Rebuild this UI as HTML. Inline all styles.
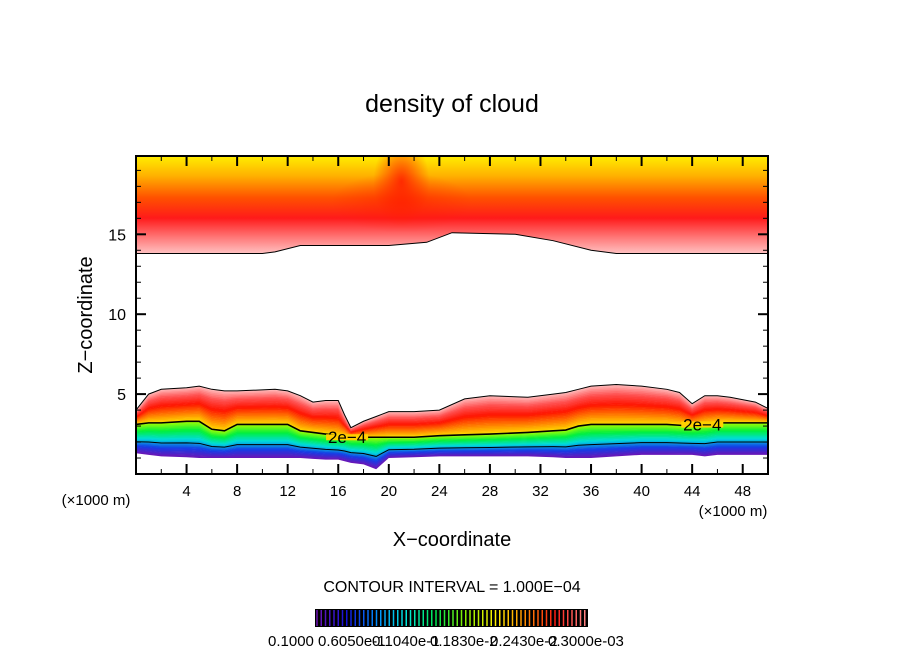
<!DOCTYPE html>
<html><head><meta charset="utf-8"><style>
html,body{margin:0;padding:0;background:#fff;}
svg{display:block;font-family:"Liberation Sans",sans-serif;}
</style></head><body>
<svg id="c" width="904" height="654" viewBox="0 0 904 654">
<defs>
<linearGradient id="topg" gradientUnits="userSpaceOnUse" x1="0" y1="156" x2="0" y2="256">
<stop offset="0" stop-color="#ffee00"/>
<stop offset="0.2" stop-color="#ffb000"/>
<stop offset="0.42" stop-color="#ff5000"/>
<stop offset="0.62" stop-color="#ff1a1a"/>
<stop offset="0.82" stop-color="#ff7a7a"/>
<stop offset="1" stop-color="#ffcccc"/>
</linearGradient>
<radialGradient id="peak" cx="0.5" cy="0.5" r="0.5">
<stop offset="0" stop-color="#ff1a00" stop-opacity="0.85"/>
<stop offset="1" stop-color="#ff2000" stop-opacity="0"/>
</radialGradient>
<clipPath id="plotclip"><rect x="136" y="156" width="632" height="318"/></clipPath>
</defs>
<text x="452" y="112" font-size="25" text-anchor="middle">density of cloud</text>
<g id="plot" clip-path="url(#plotclip)"></g>
<rect x="136" y="156" width="632" height="318" fill="none" stroke="#000" stroke-width="2"/>
<g id="axes"></g>
<text x="452" y="546" font-size="20" text-anchor="middle">X−coordinate</text>
<text transform="translate(92,315) rotate(-90)" font-size="20" text-anchor="middle">Z−coordinate</text>
<text x="96" y="505" font-size="15" text-anchor="middle">(×1000 m)</text>
<text x="733" y="516" font-size="15" text-anchor="middle">(×1000 m)</text>
<text x="452" y="592" font-size="16" text-anchor="middle">CONTOUR INTERVAL = 1.000E−04</text>
<rect x="315" y="609" width="273" height="18" fill="#000"/>
<g id="cbar"></g>
<g font-size="15">
<text x="268" y="646">0.1000</text><text x="318" y="646">0.6050e-1</text><text x="372" y="646">0.1040e-1</text><text x="430" y="646">0.1830e-2</text><text x="490" y="646">0.2430e-2</text><text x="548" y="646">0.3000e-03</text>
</g>
</svg>
<script>
const xTicks=[4,8,12,16,20,24,28,32,36,40,44,48];
const yTicks=[5,10,15];
const topBoundX=[0,10,11,13,20,23,25,30,33,36,38,50];
const topBoundZ=[13.8,13.8,13.9,14.3,14.3,14.5,15.1,15.0,14.6,14.0,13.8,13.8];
const profX=[0,1,2,4,5,6,7,8,11,12,13,14,15,16,16.5,17,18,19,20,22,24,26,28,31,33,34,35,36,38,40,42,43,44,45,46,47,49,50];
const upperZ=[4.0,5.0,5.3,5.4,5.5,5.3,5.2,5.2,5.3,5.2,4.9,4.5,4.6,4.6,3.7,2.9,3.3,3.6,3.9,3.9,4.0,4.7,4.9,4.8,5.0,5.1,5.3,5.5,5.6,5.5,5.3,5.1,4.4,4.9,4.9,4.8,4.5,4.1];
const contourZ=[3.1,3.2,3.2,3.3,3.3,2.8,2.7,3.1,3.1,3.1,2.7,2.6,2.5,2.4,2.4,2.3,2.3,2.3,2.3,2.3,2.4,2.45,2.5,2.6,2.7,2.75,3.0,3.1,3.1,3.1,3.1,3.05,3.0,3.1,3.2,3.2,3.2,3.2];
const lowerZ=[1.3,1.2,1.1,1.05,1.0,1.0,1.0,1.0,1.0,1.0,1.0,0.95,0.9,0.9,0.8,0.7,0.6,0.3,1.0,1.05,1.1,1.1,1.1,1.1,1.05,1.0,1.0,1.0,1.1,1.2,1.2,1.2,1.2,1.1,1.2,1.2,1.2,1.2];
const NS="http://www.w3.org/2000/svg";
const X=v=>136+v*632/50, Y=v=>474-v*318/19.9;
const plot=document.getElementById('plot'), axes=document.getElementById('axes');
function mk(t,a,p){const e=document.createElementNS(NS,t);for(const k in a)e.setAttribute(k,a[k]);(p||plot).appendChild(e);return e;}
let d='M136,150 L768,150 ';
for(let i=topBoundX.length-1;i>=0;i--)d+='L'+X(topBoundX[i])+','+Y(topBoundZ[i])+' ';
let tb=mk('path',{d:d+'Z',fill:'url(#topg)'});


mk('ellipse',{cx:X(21),cy:Y(18.3),rx:28,ry:45,fill:'url(#peak)'});
mk('ellipse',{cx:X(21),cy:Y(17),rx:70,ry:30,fill:'url(#peak)',opacity:0.6});
let tl=mk('polyline',{points:topBoundX.map((x,i)=>X(x)+','+Y(topBoundZ[i])).join(' '),fill:'none',stroke:'#000','stroke-width':1});


function lerp(a,b,t){return a+(b-a)*t;}
const upCols=[[255,190,190],[255,80,80],[255,20,0],[255,120,0],[255,220,0]];
const loCols=[[170,255,0],[0,240,60],[0,220,220],[20,60,230],[110,20,180]];
function cinterp(cols,t){const s=t*(cols.length-1),i=Math.min(Math.floor(s),cols.length-2),f=s-i;return 'rgb('+cols[i].map((c,k)=>Math.round(lerp(c,cols[i+1][k],f))).join(',')+')';}
function band(za,zb,cols,N,name){for(let k=0;k<N;k++){const t0=k/N,t1=(k+1)/N;let pts=[];
for(let i=0;i<profX.length;i++)pts.push(X(profX[i])+','+Y(lerp(za[i],zb[i],t0)));
for(let i=profX.length-1;i>=0;i--)pts.push(X(profX[i])+','+Y(lerp(za[i],zb[i],t1)+(k==N-1?0:-0.02)));
const p=mk('polygon',{points:pts.join(' '),fill:cinterp(cols,(k+0.5)/N)});

}}
band(upperZ,contourZ,upCols,24,'lower-band-upper-layer');
band(contourZ,lowerZ,loCols,24,'lower-band-lower-layer');
function line(z,w,name){const l=mk('polyline',{points:profX.map((x,i)=>X(x)+','+Y(z[i])).join(' '),fill:'none',stroke:'#000','stroke-width':w});

}
line(upperZ,1,'lower-band-edge');
line(contourZ,1.6,'contour-2e-4');
line(contourZ.map((c,i)=>lerp(c,lowerZ[i],0.6)),1,'contour-1e-4');
[16.7,44.8].forEach(x=>{const zi=contourZ[profX.findIndex(v=>v>=x)];
mk('rect',{x:X(x)-21,y:Y(zi)-3,width:42,height:6,fill:'#ffd000'});
const t=mk('text',{x:X(x),y:Y(zi)+6,'font-size':17,'text-anchor':'middle'});t.textContent='2e−4';

});
xTicks.forEach(v=>{mk('line',{x1:X(v),x2:X(v),y1:474,y2:464,stroke:'#000','stroke-width':2},axes);mk('line',{x1:X(v),x2:X(v),y1:156,y2:166,stroke:'#000','stroke-width':2},axes);
const t=mk('text',{x:X(v),y:496,'font-size':15,'text-anchor':'middle'},axes);t.textContent=v;

});
for(let v=2;v<50;v+=4){mk('line',{x1:X(v),x2:X(v),y1:474,y2:469,stroke:'#000'},axes);mk('line',{x1:X(v),x2:X(v),y1:156,y2:161,stroke:'#000'},axes);}
for(let v=1;v<20;v++){const big=yTicks.includes(v);mk('line',{x1:136,x2:136+(big?10:5),y1:Y(v),y2:Y(v),stroke:'#000','stroke-width':big?2:1},axes);mk('line',{x1:768,x2:768-(big?10:5),y1:Y(v),y2:Y(v),stroke:'#000','stroke-width':big?2:1},axes);}
yTicks.forEach(v=>{const t=mk('text',{x:126,y:Y(v)+6,'font-size':16,'text-anchor':'end'},axes);t.textContent=v;

});
const cb=document.getElementById('cbar');
const cbCols=[[110,20,180],[20,20,220],[0,140,255],[0,230,220],[0,230,80],[140,240,0],[255,240,0],[255,140,0],[255,30,20],[255,130,130]];
for(let i=0;i<64;i++){const x=317+i*4.25;mk('line',{x1:x,x2:x,y1:610,y2:626,stroke:cinterp(cbCols,i/63),'stroke-width':1.5},cb);}
</script>
</body></html>
